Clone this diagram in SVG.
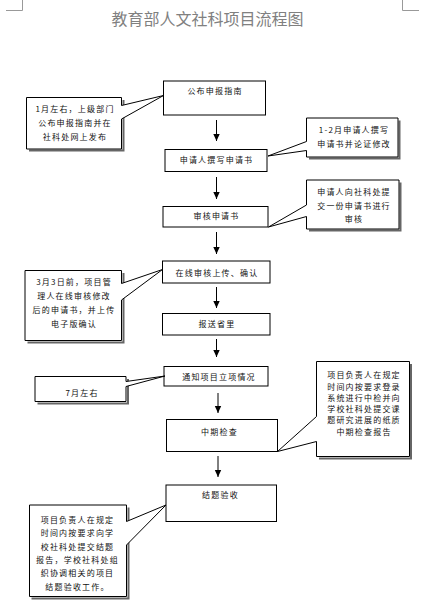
<svg xmlns="http://www.w3.org/2000/svg" width="434" height="605" viewBox="0 0 434 605">
<style>
.bg{fill:#fff}
.node rect{fill:#fff;stroke:#000;stroke-width:1}
.call .sh{fill:none;stroke:#666;stroke-width:2}
.call .bx{fill:#fff;stroke:#000;stroke-width:1;stroke-linejoin:miter}
text{font-family:"Noto Sans CJK SC","Liberation Sans",sans-serif;font-size:8px;letter-spacing:1.2px;fill:#111;text-anchor:middle}
.title{font-size:16px;letter-spacing:0;fill:#808080}
.conn line{stroke:#000;stroke-width:1}
.corner{stroke:#999;stroke-width:1;fill:none}
</style>
<defs>
<marker id="ah" markerWidth="8" markerHeight="8" refX="7" refY="4" orient="auto" markerUnits="userSpaceOnUse">
<path d="M0,0.8 L7,4 L0,7.2 Z" fill="#000"/>
</marker>
</defs>
<rect class="bg" x="0" y="0" width="434" height="605"/>
<path class="corner" d="M6,10.5 H22.5 V0"/>
<path class="corner" d="M402.5,0 V10.5 H419"/>
<text class="title" x="207.5" y="25">教育部人文社科项目流程图</text>

<g id="connectors" class="conn">
<line x1="216.5" y1="120" x2="216.5" y2="141" marker-end="url(#ah)"/>
<line x1="216.5" y1="177" x2="216.5" y2="199" marker-end="url(#ah)"/>
<line x1="216.5" y1="232" x2="216.5" y2="254" marker-end="url(#ah)"/>
<line x1="216.5" y1="287" x2="216.5" y2="308" marker-end="url(#ah)"/>
<line x1="216.5" y1="339" x2="216.5" y2="357" marker-end="url(#ah)"/>
<line x1="218" y1="393" x2="218" y2="413" marker-end="url(#ah)"/>
<line x1="218" y1="456" x2="218" y2="477" marker-end="url(#ah)"/>
</g>

<g id="n1" class="node"><rect x="163.5" y="81" width="102" height="34"/><text x="215" y="94">公布申报指南</text></g>
<g id="n2" class="node"><rect x="165" y="149.5" width="102" height="22"/><text x="216.5" y="162.5">申请人撰写申请书</text></g>
<g id="n3" class="node"><rect x="163" y="206.5" width="105" height="20.5"/><text x="216.5" y="219">审核申请书</text></g>
<g id="n4" class="node"><rect x="162.5" y="261" width="107.5" height="22"/><text x="217" y="275.5">在线审核上传、确认</text></g>
<g id="n5" class="node"><rect x="162.5" y="313.5" width="107.5" height="21.5"/><text x="217" y="326.5">报送省里</text></g>
<g id="n6" class="node"><rect x="164" y="366.5" width="104" height="19.5"/><text x="219" y="379.5">通知项目立项情况</text></g>
<g id="n7" class="node"><rect x="166.5" y="419.5" width="111" height="32"/><text x="219.5" y="434.5">中期检查</text></g>
<g id="n8" class="node"><rect x="166" y="485" width="110.5" height="36.5"/><text x="220.5" y="498">结题验收</text></g>

<g id="c1" class="call">
<path class="sh" d="M123.5,100 V150.5 H29"/>
<path class="bx" d="M26.5,97.5 H121.5 V105.5 L163.5,95.5 L121.5,119 V149 H26.5 Z"/>
<text x="75" y="111.5">1月左右，上级部门</text>
<text x="75" y="125.5">公布申报指南并在</text>
<text x="75" y="139.5">社科处网上发布</text>
</g>
<g id="c2" class="call">
<path class="sh" d="M399.5,120.5 V158.5 H309"/>
<path class="bx" d="M306.5,118 H398 V157 H306.5 V150.5 L268,156 L306.5,141.5 Z"/>
<text x="354" y="132.5">1-2月申请人撰写</text>
<text x="354" y="146.5">申请书并论证修改</text>
</g>
<g id="c3" class="call">
<path class="sh" d="M400.5,182.5 V230.5 H309"/>
<path class="bx" d="M306.5,180 H399 V229 H306.5 V216.5 L268.5,227 L306.5,205 Z"/>
<text x="354" y="195">申请人向社科处提</text>
<text x="354" y="208.5">交一份申请书进行</text>
<text x="354" y="222">审核</text>
</g>
<g id="c4" class="call">
<path class="sh" d="M123.5,273 V342.5 H27.5"/>
<path class="bx" d="M25,270.5 H121.5 V283.5 L162.5,269.5 L121.5,300 V340.5 H25 Z"/>
<text x="74" y="285">3月3日前，项目管</text>
<text x="74" y="299">理人在线审核修改</text>
<text x="74" y="313">后的申请书，并上传</text>
<text x="74" y="327">电子版确认</text>
</g>
<g id="c6" class="call">
<path class="sh" d="M128,379 V403.5 H37.5"/>
<path class="bx" d="M35,376.5 H126 V381.5 L165,376 L126,386.5 V401.5 H35 Z"/>
<text x="82" y="395.5">7月左右</text>
</g>
<g id="c7" class="call">
<path class="sh" d="M411,364 V458.5 H319"/>
<path class="bx" d="M316.5,361.5 H409.5 V456.5 H316.5 V441.5 L277.5,451.5 L316.5,416.5 Z"/>
<text x="364" y="378">项目负责人在规定</text>
<text x="364" y="389.5">时间内按要求登录</text>
<text x="364" y="400.8">系统进行中检并向</text>
<text x="364" y="412">学校社科处提交课</text>
<text x="364" y="423.3">题研究进展的纸质</text>
<text x="364" y="434.7">中期检查报告</text>
</g>
<g id="c8" class="call">
<path class="sh" d="M128.5,507.5 V598.5 H31.5"/>
<path class="bx" d="M29.5,505 H126.5 V521.5 L166,505 L126.5,545 V596.5 H29.5 Z"/>
<text x="77.5" y="523">项目负责人在规定</text>
<text x="77.5" y="536.3">时间内按要求向学</text>
<text x="77.5" y="549.7">校社科处提交结题</text>
<text x="77.5" y="563">报告，学校社科处组</text>
<text x="77.5" y="576.3">织协调相关的项目</text>
<text x="77.5" y="589.7">结题验收工作。</text>
</g>
</svg>
